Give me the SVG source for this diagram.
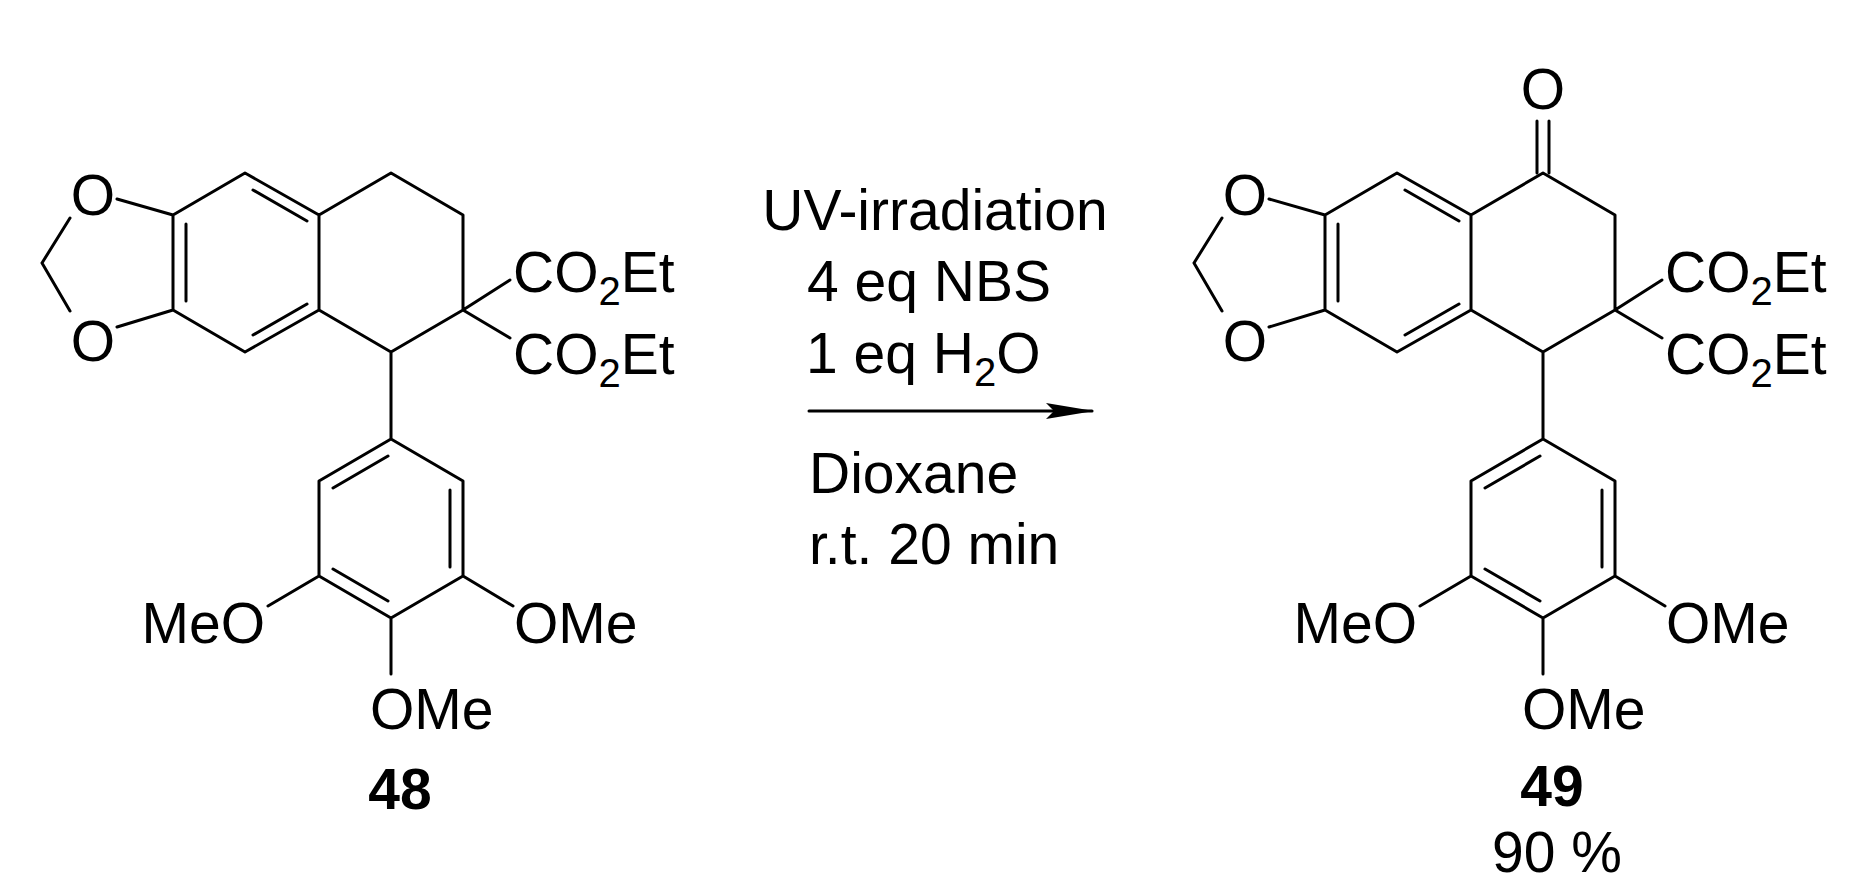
<svg xmlns="http://www.w3.org/2000/svg" xmlns:xlink="http://www.w3.org/1999/xlink" width="1872" height="895" viewBox="0 0 1872 895">
<style>
.b{stroke:#000;stroke-width:3;fill:none;stroke-linecap:round;stroke-linejoin:round}
text{font-family:"Liberation Sans",Arial,sans-serif;font-size:57px;fill:#000}
.s{font-size:40px}
.bold{font-weight:bold}
</style>
<defs>
<marker id="ah" markerWidth="48" markerHeight="16" refX="46" refY="8" orient="auto" markerUnits="userSpaceOnUse">
<path d="M0,0 L48,8 L0,16 L8,8 Z" fill="#000"/>
</marker>
<g id="core">
<path class="b" d="M245,173 L319,215 L319,310 L245,352 L173,310 L173,215 Z M253,190 L307,221 M186,224 L186,301 M307,304 L253,335 M319,215 L391,173 L463,215 L463,310 L391,352 L319,310 M173,215 L117,199 M173,310 L117,327 M42,263 L70,218 M42,263 L70,311 M463,310 L510,280 M463,310 L510,338 M391,352 L391,439 M391,439 L463,481 L463,576 L391,618 L319,576 L319,481 Z M388,456 L333,488 M450,490 L450,567 M333,569 L388,601 M319,576 L268,606 M463,576 L513,606 M391,618 L391,674"/>
<text x="93" y="215" text-anchor="middle">O</text>
<text x="93" y="361" text-anchor="middle">O</text>
<text x="513" y="292">CO<tspan class="s" dy="13">2</tspan><tspan dy="-13">Et</tspan></text>
<text x="513" y="374">CO<tspan class="s" dy="13">2</tspan><tspan dy="-13">Et</tspan></text>
<text x="265" y="643" text-anchor="end">MeO</text>
<text x="514" y="643">OMe</text>
<text x="370" y="729">OMe</text>
</g>
</defs>
<g id="mol48">
<use xlink:href="#core"/>
<text class="bold" x="400" y="809" text-anchor="middle">48</text>
</g>
<g id="mol49" transform="translate(1152,0)">
<use xlink:href="#core"/>
<path class="b" d="M385,121 L385,173 M397,121 L397,173"/>
<text x="391" y="109" text-anchor="middle">O</text>
<text class="bold" x="400" y="806" text-anchor="middle">49</text>
<text x="405" y="872" text-anchor="middle">90 %</text>
</g>
<g id="connectors">
<line class="b" x1="809" y1="411" x2="1092" y2="411" marker-end="url(#ah)"/>
</g>
<g id="conditions">
<text x="935" y="230" text-anchor="middle">UV-irradiation</text>
<text x="929" y="301" text-anchor="middle">4 eq NBS</text>
<text x="806" y="373">1 eq H<tspan class="s" dy="13">2</tspan><tspan dy="-13">O</tspan></text>
<text x="809" y="493">Dioxane</text>
<text x="809" y="564">r.t. 20 min</text>
</g>
</svg>
